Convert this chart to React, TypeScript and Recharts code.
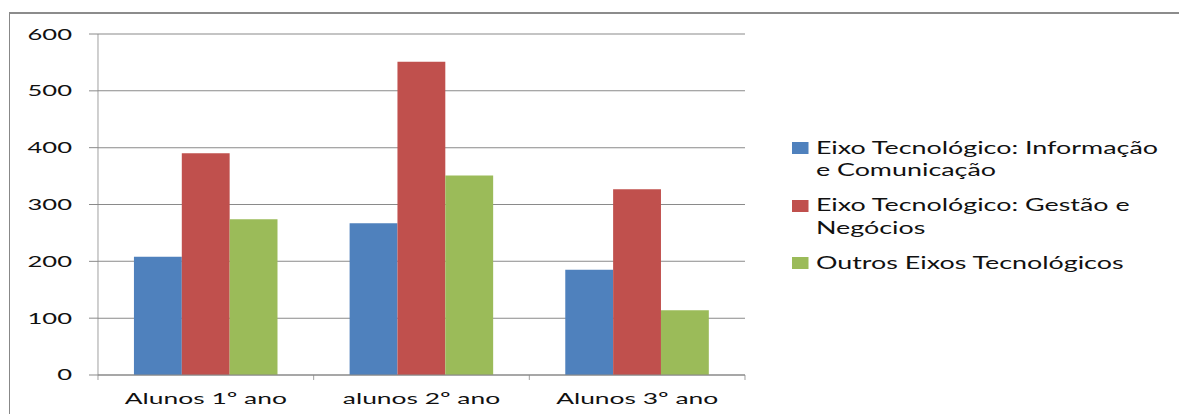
import React from 'react';
import { BarChart, Bar, XAxis, YAxis, CartesianGrid, Legend } from 'recharts';

const categories = ['Alunos 1º ano', 'alunos 2º ano', 'Alunos 3º ano'];
const infoCom = [208, 267, 185];
const gestao = [390, 551, 327];
const outros = [274, 351, 114];
const seriesNames = [
  'Eixo Tecnológico: Informação e Comunicação',
  'Eixo Tecnológico: Gestão e Negócios',
  'Outros Eixos Tecnológicos',
];
const seriesColors = ['#4F81BD', '#C0504D', '#9BBB59'];
const yTicks = [0, 100, 200, 300, 400, 500, 600];

const data = categories.map((c, i) => ({
  cat: c,
  a: infoCom[i],
  b: gestao[i],
  c: outros[i],
}));

const S = 1.65;
const W = 1179;
const H = 414;
const BASE_W = W / S;
const FONT = 'Lato, "Open Sans", sans-serif';
const LINE = '#8a8a8a';
const VSTROKE = 1 / S;

const XTick = (props: any) => {
  const { x, y, payload, index, visibleTicksCount } = props;
  const off = payload && typeof payload.offset === 'number' ? payload.offset : 0;
  const isLast = index === visibleTicksCount - 1;
  return (
    <g>
      {off ? (
        <line x1={x - off} x2={x - off} y1={y - 18} y2={y - 13} stroke={LINE} strokeWidth={VSTROKE} />
      ) : null}
      {off && isLast ? (
        <line x1={x + off} x2={x + off} y1={y - 18} y2={y - 13} stroke={LINE} strokeWidth={VSTROKE} />
      ) : null}
      <text x={x} y={y} dy="0.71em" textAnchor="middle" fill="#111" fontSize={16} fontFamily={FONT}>
        {payload.value}
      </text>
    </g>
  );
};

const LegendContent = (props: any) => {
  const items = [...(props.payload || [])].sort(
    (p: any, q: any) => seriesNames.indexOf(p.value) - seriesNames.indexOf(q.value)
  );
  return (
    <div style={{ display: 'flex', flexDirection: 'column', gap: 12.5 }}>
      {items.map((e: any, i: number) => (
        <div key={i} style={{ display: 'flex', alignItems: 'flex-start' }}>
          <span
            style={{
              display: 'inline-block',
              width: 9.7,
              height: 12,
              background: e.color,
              marginTop: (22.5 - 12) / 2,
              flexShrink: 0,
            }}
          />
          <span
            style={{
              marginLeft: 4.8,
              width: 214,
              lineHeight: '22.5px',
              fontSize: 16.3,
              fontFamily: FONT,
              color: '#111',
            }}
          >
            {e.value}
          </span>
        </div>
      ))}
    </div>
  );
};

export default function App() {
  return (
    <div
      style={{
        position: 'fixed',
        left: 0,
        top: 0,
        width: W,
        height: H,
        overflow: 'hidden',
        background: '#fff',
      }}
    >
      <div
        style={{
          position: 'absolute',
          left: 9,
          top: 12,
          width: 1400,
          height: 600,
          borderLeft: '1px solid #888',
          borderTop: '2px solid #8c8c8c',
        }}
      />
      <div
        style={{
          position: 'absolute',
          left: 0,
          top: 0,
          transform: `scaleX(${S})`,
          transformOrigin: '0 0',
        }}
      >
        <BarChart
          width={BASE_W}
          height={H}
          data={data}
          margin={{ top: 34, right: BASE_W - 745 / S, bottom: 0, left: 0 }}
          barCategoryGap="16.67%"
          barGap={0}
        >
          <CartesianGrid vertical={false} stroke={LINE} strokeWidth={1} />
          <XAxis
            dataKey="cat"
            height={39}
            axisLine={{ stroke: LINE, strokeWidth: 1 }}
            tickLine={false}
            tickSize={0}
            tickMargin={18}
            tick={<XTick />}
            interval={0}
          />
          <YAxis
            width={98 / S}
            domain={[0, 600]}
            ticks={yTicks}
            axisLine={{ stroke: LINE, strokeWidth: VSTROKE }}
            tickLine={{ stroke: LINE, strokeWidth: 1 }}
            tickSize={9 / S}
            tickMargin={10.3}
            tick={{ fill: '#111', fontSize: 15.5, fontFamily: FONT }}
          />
          <Legend
            layout="vertical"
            align="center"
            verticalAlign="middle"
            content={<LegendContent />}
            wrapperStyle={{ left: 792 / S, top: 136.75, width: 240 }}
          />
          <Bar dataKey="a" name={seriesNames[0]} fill={seriesColors[0]} isAnimationActive={false} />
          <Bar dataKey="b" name={seriesNames[1]} fill={seriesColors[1]} isAnimationActive={false} />
          <Bar dataKey="c" name={seriesNames[2]} fill={seriesColors[2]} isAnimationActive={false} />
        </BarChart>
      </div>
    </div>
  );
}
